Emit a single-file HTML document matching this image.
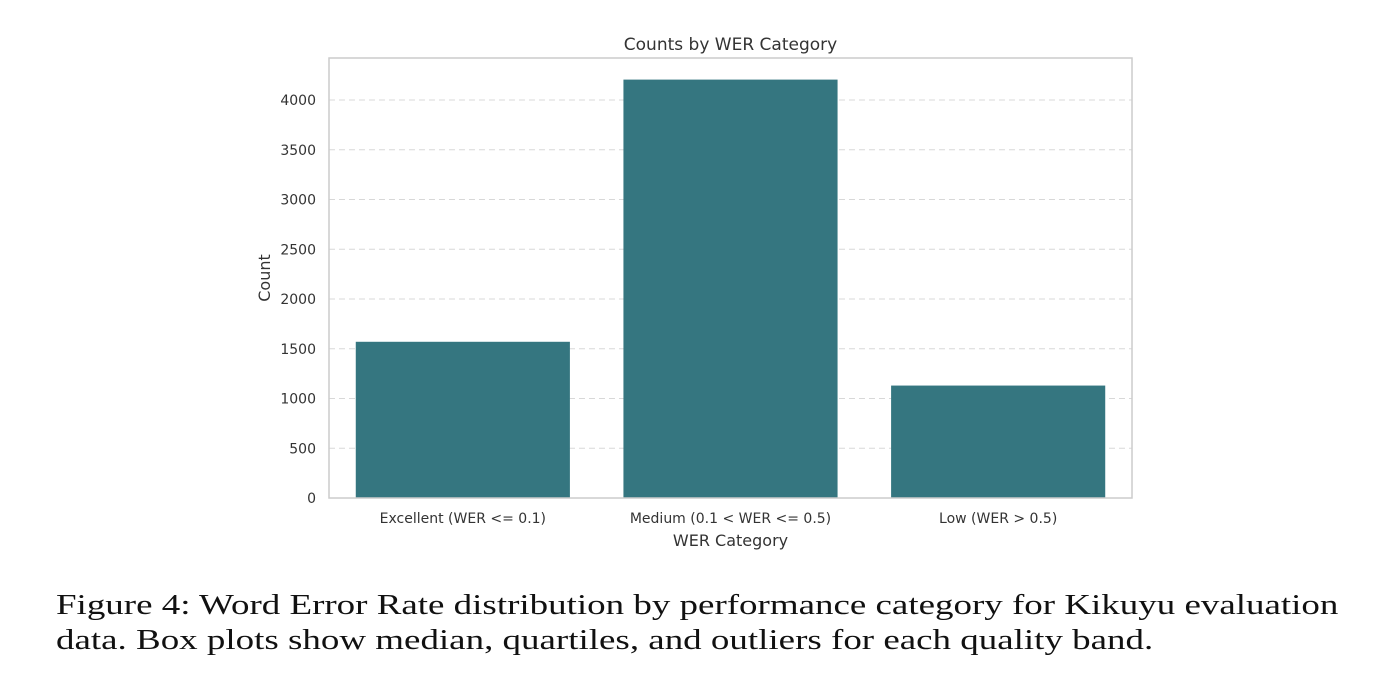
<!DOCTYPE html>
<html><head><meta charset="utf-8"><style>
body{margin:0;background:#fff;width:1393px;height:694px;overflow:hidden;}
svg{position:absolute;left:0;top:0;}
.cap{position:absolute;left:56px;font-family:"Liberation Serif",serif;font-size:28px;line-height:35px;color:#111;white-space:nowrap;transform:scaleX(1.32);transform-origin:0 0;}
.l1{top:588px;}
.l2{top:623px;}
</style></head><body>
<svg width="1393" height="694" id="chart" font-family="DejaVu Sans, Liberation Sans, sans-serif"></svg>
<div class="cap l1">Figure 4: Word Error Rate distribution by performance category for Kikuyu evaluation</div>
<div class="cap l2">data. Box plots show median, quartiles, and outliers for each quality band.</div>
<script>
const categories=["Excellent (WER <= 0.1)","Medium (0.1 < WER <= 0.5)","Low (WER > 0.5)"];
const counts=[1570,4205,1130];
const yTicks=[0,500,1000,1500,2000,2500,3000,3500,4000];
const NS="http://www.w3.org/2000/svg";
const svg=document.getElementById('chart');
const L=329,R=1132,T=58,B=498;
const y=v=>B-v*(B-100)/4000;
const band=(R-L)/categories.length;
const x=i=>L+band*i+band/2;
function mk(t,a,txt){const e=document.createElementNS(NS,t);for(const k in a)e.setAttribute(k,a[k]);if(txt!==undefined)e.textContent=txt;svg.appendChild(e);return e;}
yTicks.forEach(v=>{
 if(v>0){const g=mk('line',{x1:L,x2:R,y1:y(v),y2:y(v),stroke:'#d8d8d8','stroke-dasharray':'6,4','stroke-width':1});
 
 }
 const t=mk('text',{x:L-13,y:y(v)+5,'text-anchor':'end','font-size':14,fill:'#333'},v);
 
 
});
counts.forEach((c,i)=>{
 const w=band*0.8;
 const r=mk('rect',{x:x(i)-w/2,y:y(c),width:w,height:B-y(c),fill:'#357680'});
 
 
 const t=mk('text',{x:x(i),y:B+25,'text-anchor':'middle','font-size':14,fill:'#333'},categories[i]);
 
 
});
const f=mk('rect',{x:L,y:T,width:R-L,height:B-T,fill:'none',stroke:'#cccccc','stroke-width':1.5});


const ti=mk('text',{x:(L+R)/2,y:50,'text-anchor':'middle','font-size':17,fill:'#333'},'Counts by WER Category');


const xl=mk('text',{x:(L+R)/2,y:546,'text-anchor':'middle','font-size':16,fill:'#333'},'WER Category');


const yl=mk('text',{x:0,y:0,'text-anchor':'middle','font-size':16,fill:'#333',transform:'translate(270,'+((T+B)/2)+') rotate(-90)'},'Count');


</script>
</body></html>
